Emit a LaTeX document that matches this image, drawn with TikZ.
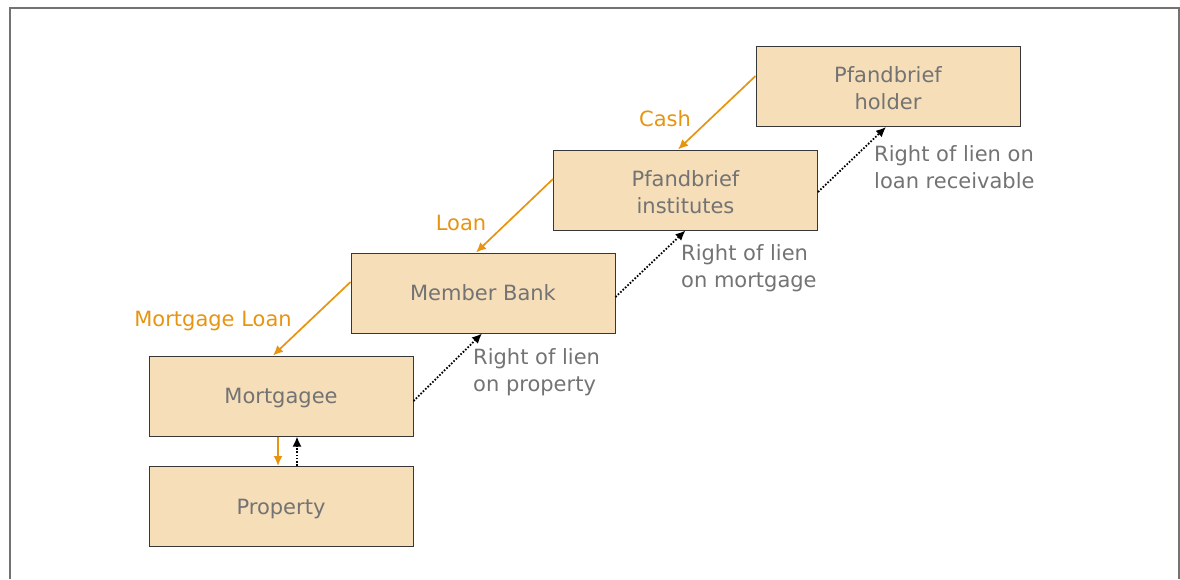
\documentclass[tikz,border=0pt]{standalone}
\usepackage{fontspec}
\setmainfont{DejaVu Sans}
\usetikzlibrary{arrows.meta}
\definecolor{boxfill}{RGB}{246,222,185}
\definecolor{boxline}{RGB}{55,55,55}
\definecolor{txt}{RGB}{115,115,115}
\definecolor{orng}{RGB}{231,148,16}
\definecolor{frm}{RGB}{115,115,115}
\tikzset{
  box/.style={draw=boxline, line width=1pt, fill=boxfill, minimum width=264pt, minimum height=80pt, inner sep=0pt, align=center, text=txt, font=\fontsize{21}{27}\selectfont},
  flow/.style={draw=orng, line width=1.7pt, -{Latex[length=10pt,width=9pt]}},
  lien/.style={draw=black, line width=1.8pt, dash pattern=on 1.6pt off 1.7pt, -{Latex[length=10pt,width=9pt]}},
  olbl/.style={text=orng, inner sep=0pt, font=\fontsize{21}{27}\selectfont},
  glbl/.style={text=txt, inner sep=0pt, align=left, anchor=west, font=\fontsize{21}{27}\selectfont}
}
\begin{document}
\begin{tikzpicture}[x=1pt,y=-1pt]
\useasboundingbox (0,0) rectangle (1180,579);
\draw[frm, line width=2pt] (9.5,579) -- (9.5,7.5) -- (1178.5,7.5) -- (1178.5,579);

\node[box] (holder) at (888,86.5) {\rule{0pt}{20pt}Pfandbrief\\holder};
\node[box] (inst) at (685.5,190) {\rule{0pt}{20pt}Pfandbrief\\institutes};
\node[box] (member) at (483,293) {Member Bank};
\node[box] (mortgagee) at (281,396) {\rule{0pt}{20pt}Mortgagee};
\node[box] (property) at (281,506.5) {\rule{0pt}{20pt}Property};

\draw[flow] ([yshift=10.5pt]holder.west) -- ([xshift=-7.5pt]inst.north);
\draw[flow] ([yshift=11pt]inst.west) -- ([xshift=-7pt]member.north);
\draw[flow] ([yshift=11pt]member.west) -- ([xshift=-8pt]mortgagee.north);
\draw[flow] ([xshift=-3pt]mortgagee.south) -- ([xshift=-3pt]property.north);

\draw[lien] ([yshift=-5pt]mortgagee.east) -- ([xshift=-1pt]member.south);
\draw[lien] ([yshift=-4pt]member.east) -- ([xshift=0pt]inst.south);
\draw[lien] ([yshift=-2pt]inst.east) -- ([xshift=-2pt]holder.south);
\draw[lien] ([xshift=16pt]property.north) -- ([xshift=16pt]mortgagee.south);

\node[olbl] (cash) at (665,119) {Cash};
\node[olbl] (loan) at (461,223) {Loan};
\node[olbl] (mloan) at (213,321) {Mortgage Loan};

\node[glbl] (l1) at (473,372.5) {Right of lien\\on property};
\node[glbl] (l2) at (681,268) {Right of lien\\on mortgage};
\node[glbl] (l3) at (874,167) {Right of lien on\\loan receivable};
\end{tikzpicture}
\end{document}
